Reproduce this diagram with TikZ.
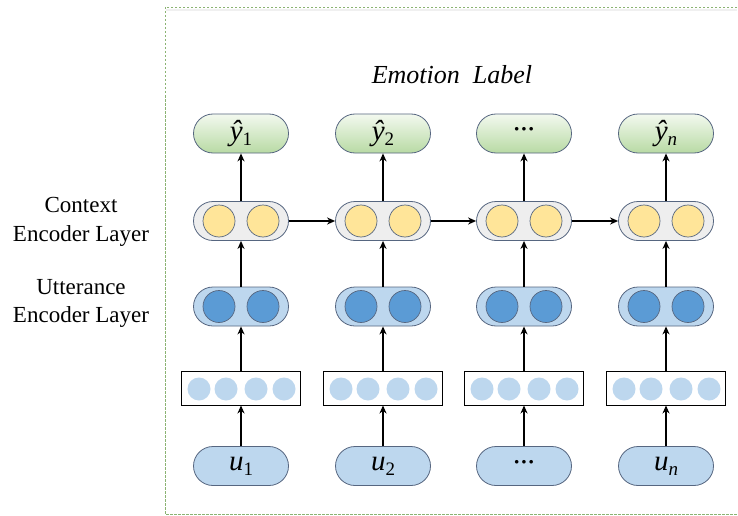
\documentclass[tikz,border=0pt]{standalone}
\usepackage{fontspec}
\setmainfont{Liberation Serif}
\usetikzlibrary{arrows.meta}
\definecolor{edgec}{RGB}{86,102,128}
\definecolor{yel}{RGB}{255,229,153}
\definecolor{lgray}{RGB}{238,238,238}
\definecolor{lblue}{RGB}{189,215,238}
\definecolor{mblue}{RGB}{91,155,213}
\definecolor{gtop}{RGB}{243,249,239}
\definecolor{gbot}{RGB}{184,218,164}
\definecolor{framec}{RGB}{110,160,80}
\tikzset{
  pill/.style={draw=edgec, line width=0.8pt, rounded corners=19.5pt, minimum width=95pt, minimum height=39pt, inner sep=0pt, font=\fontsize{29}{30}\selectfont},
  greenpill/.style={pill, top color=gtop, bottom color=gbot},
  graypill/.style={pill, fill=lgray},
  bluepill/.style={pill, fill=lblue},
  ubox/.style={pill, fill=lblue},
  embbox/.style={draw=black, line width=0.9pt, fill=white, minimum width=119pt, minimum height=34pt, inner sep=0pt},
  ycirc/.style={circle, draw=edgec, line width=0.7pt, fill=yel, minimum size=32pt, inner sep=0pt},
  bcirc/.style={circle, draw=edgec, line width=0.7pt, fill=mblue, minimum size=32pt, inner sep=0pt},
  scirc/.style={circle, fill=lblue, minimum size=23pt, inner sep=0pt},
  arr/.style={-{Stealth[length=8pt,width=7pt,inset=2.5pt]}, line width=1.4pt, black},
  sidelab/.style={align=center, font=\fontsize{23}{28.5}\selectfont}
}
\newcommand{\mydots}{\textbf{\fontsize{22}{24}\selectfont\raisebox{3pt}{\textperiodcentered\textperiodcentered\textperiodcentered}}}
\newcommand{\vlab}[2]{{\itshape #1}\raisebox{-5pt}{\fontsize{19}{20}\selectfont #2}}
\begin{document}
\begin{tikzpicture}[x=1pt,y=-1pt]
\useasboundingbox (0,0) rectangle (738,516);
\fill[white] (0,0) rectangle (738,516);
% frame
\draw[framec!80, dash pattern=on 2.5pt off 1.5pt, line width=0.9pt] (737,7) -- (165,7) -- (165,514) -- (737,514);
\fill[black!6] (166,9) rectangle (737,11);
% title
\node (title) at (452,75) {\fontsize{26}{30}\selectfont\itshape Emotion\ \ Label};
% side labels
\node[sidelab] (ctx) at (81,222) {Context\\Encoder Layer};
\node[sidelab] (utt) at (81,303.5) {Utterance\\Encoder Layer};
% columns
\foreach \i/\x/\ylab/\ulab in {1/241/{\vlab{ŷ}{1}}/{\vlab{u}{1}},2/383/{\vlab{ŷ}{2}}/{\vlab{u}{2}},3/524/{\mydots}/{\mydots},4/666/{\vlab{ŷ}{\itshape n}}/{\vlab{u}{\itshape n}}}{
  \node[greenpill] (g\i) at (\x,133.5) {\ylab};
  \node[graypill] (c\i) at (\x,221) {};
  \node[ycirc] at (\x-22,221) {};
  \node[ycirc] at (\x+22,221) {};
  \node[bluepill] (b\i) at (\x,306.5) {};
  \node[bcirc] at (\x-22,306.5) {};
  \node[bcirc] at (\x+22,306.5) {};
  \node[embbox] (e\i) at (\x,388) {};
  \node[scirc] at (\x-42,389) {};
  \node[scirc] at (\x-15,389) {};
  \node[scirc] at (\x+15,389) {};
  \node[scirc] at (\x+43,389) {};
  \node[ubox] (u\i) at (\x,466) {\ulab};
  \draw[arr] (u\i.north) -- (e\i.south);
  \draw[arr] (e\i.north) -- (b\i.south);
  \draw[arr] (b\i.north) -- (c\i.south);
  \draw[arr] (c\i.north) -- (g\i.south);
}
\draw[arr] (c1.east) -- (c2.west);
\draw[arr] (c2.east) -- (c3.west);
\draw[arr] (c3.east) -- (c4.west);
\end{tikzpicture}
\end{document}
